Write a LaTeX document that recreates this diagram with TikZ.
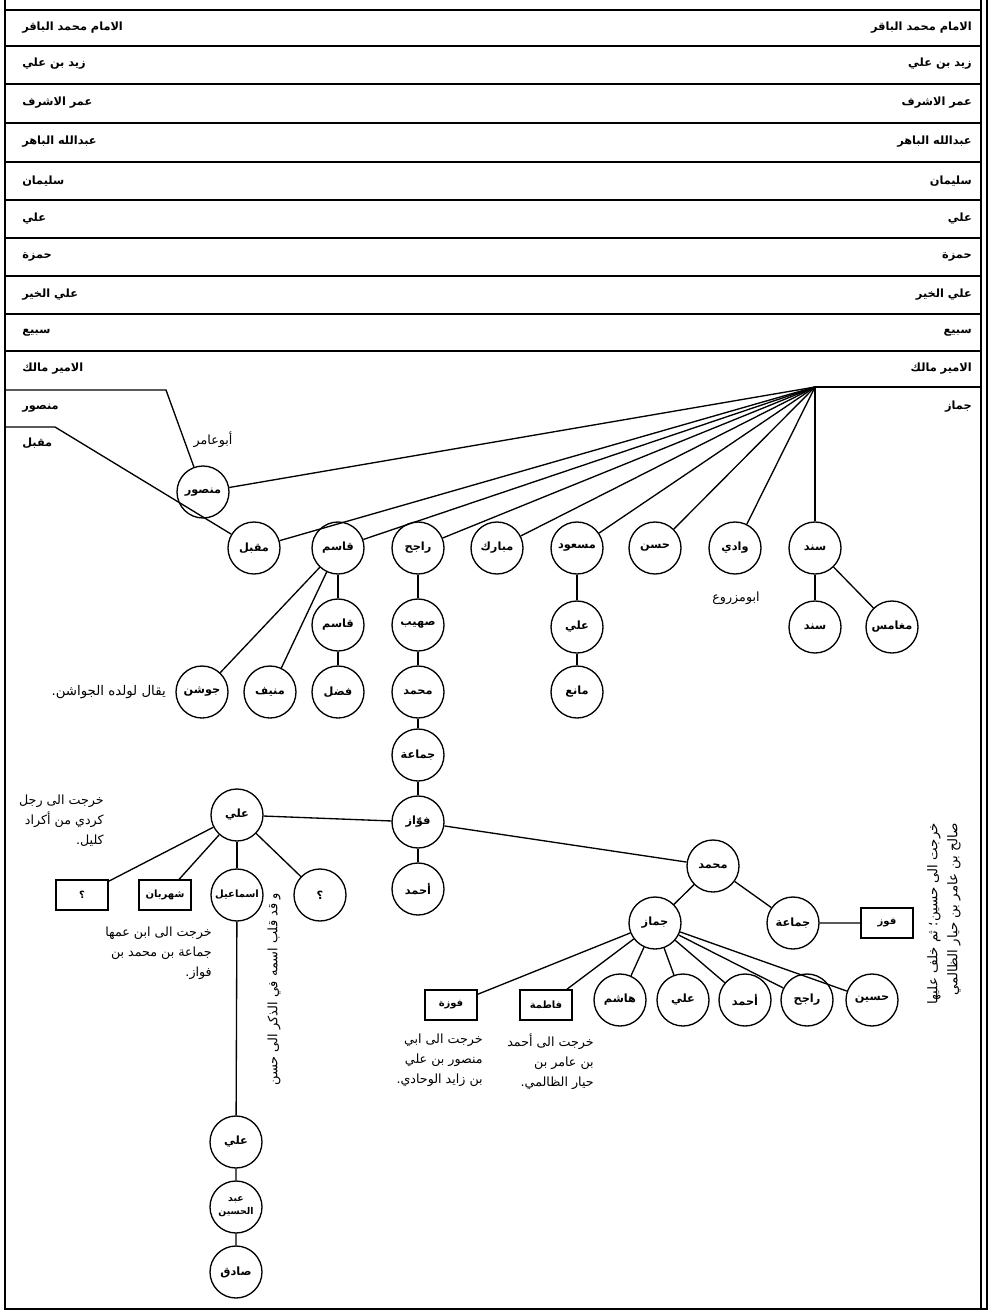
\documentclass[tikz,border=0pt]{standalone}
\usepackage{fontspec}
\newfontfamily\arfont[Script=Arabic]{DejaVu Sans}
\TeXXeTstate=1
\newcommand{\arR}[1]{\beginR #1\endR}
\tikzset{
  person/.style={circle,draw,line width=1pt,minimum size=39pt,inner sep=0pt,fill=white,
    font=\arfont\bfseries\fontsize{8.5}{10}\selectfont},
  boxed/.style={rectangle,draw,line width=1pt,minimum width=39pt,minimum height=22.5pt,inner sep=1pt,fill=white,
    font=\arfont\bfseries\fontsize{7.5}{9}\selectfont},
  rowtxt/.style={inner sep=0pt,font=\arfont\bfseries\fontsize{8.5}{10}\selectfont},
  note/.style={inner sep=0pt,align=right,font=\arfont\fontsize{9.5}{15}\selectfont},
  link/.style={line width=1pt},
  rule/.style={line width=1.1pt}
}
\begin{document}
\begin{tikzpicture}[x=0.75pt,y=-0.75pt]
\useasboundingbox (0,0) rectangle (992,1316);
% frame
\coordinate (fTL) at (5,0);
\coordinate (fBL) at (5,1309);
\coordinate (fBR) at (987,1309);
\coordinate (fTR) at (987,0);
\coordinate (fTRi) at (981,0);
\coordinate (fBRi) at (981,1309);
\draw[rule] (fTL) -- (fBL) -- (fBR) -- (fTR);
\draw[rule] (fTRi) -- (fBRi);
% row lines
\foreach \yy/\nm in {10/r0,46/r1,84/r2,123/r3,162/r4,200/r5,238/r6,276/r7,314/r8,351/r9}{
  \coordinate (\nm L) at (5,\yy);
  \coordinate (\nm R) at (981,\yy);
  \draw[rule] (\nm L) -- (\nm R);
}
% row texts
\foreach \yy/\txt [count=\i] in {28/الامام محمد الباقر,64/زيد بن علي,103/عمر الاشرف,142/عبدالله الباهر,181/سليمان,219/علي,257/حمزة,295/علي الخير,333/سبيع,369/الامير مالك}{
  \node[rowtxt,anchor=west] (rowL\i) at (22,\yy) {\arR{\txt}};
  \node[rowtxt,anchor=east] (rowR\i) at (972,\yy) {\arR{\txt}};
}
% branch labels
\node[rowtxt,anchor=west] (lblMansour) at (22,408) {\arR{منصور}};
\node[rowtxt,anchor=west] (lblMuqbil) at (22,443) {\arR{مقبل}};
\node[rowtxt,anchor=east] (lblJammaz) at (972,407) {\arR{جماز}};

% persons
\node[person] (mansour) at (203,492) {\arR{منصور}};
\node[person] (muqbil) at (254,548) {\arR{مقبل}};
\node[person] (qasim) at (338,548) {\arR{قاسم}};
\node[person] (rajih) at (418,548) {\arR{راجح}};
\node[person] (mubarak) at (497,548) {\arR{مبارك}};
\node[person] (masud) at (577,548) {\arR{مسعود}};
\node[person] (hasan) at (655,548) {\arR{حسن}};
\node[person] (wadi) at (735,548) {\arR{وادي}};
\node[person] (sanad) at (815,548) {\arR{سند}};
\node[person] (qasimb) at (338,625) {\arR{قاسم}};
\node[person] (suhaib) at (418,625) {\arR{صهيب}};
\node[person] (alim) at (577,627) {\arR{علي}};
\node[person] (sanadb) at (815,627) {\arR{سند}};
\node[person] (mughamis) at (892,627) {\arR{مغامس}};
\node[person] (jawshan) at (202,692) {\arR{جوشن}};
\node[person] (munif) at (270,692) {\arR{منيف}};
\node[person] (fadl) at (338,692) {\arR{فضل}};
\node[person] (muhammada) at (418,692) {\arR{محمد}};
\node[person] (mani) at (577,692) {\arR{مانع}};
\node[person] (jamaaa) at (418,755) {\arR{جماعة}};
\node[person] (fawwaz) at (418,822) {\arR{فوّاز}};
\node[person] (ahmada) at (418,889) {\arR{أحمد}};
\node[person] (alil) at (237,815) {\arR{علي}};
\node[person,font=\arfont\bfseries\fontsize{7.5}{8}\selectfont] (ismail) at (237,895) {\arR{اسماعيل}};
\node[person] (qcirc) at (320,895) {\arR{؟}};
\node[boxed] (qbox) at (82,895) {\arR{؟}};
\node[boxed] (shahraban) at (165,895) {\arR{شهربان}};
\node[person] (muhammadb) at (713,866) {\arR{محمد}};
\node[person] (jammazb) at (655,923) {\arR{جماز}};
\node[person] (jamaab) at (793,923) {\arR{جماعة}};
\node[boxed] (fawz) at (887,923) {\arR{فوز}};
\node[boxed] (fawza) at (451,1005) {\arR{فوزة}};
\node[boxed] (fatima) at (546,1005) {\arR{فاطمة}};
\node[person] (hashim) at (620,1000) {\arR{هاشم}};
\node[person] (alic) at (683,1000) {\arR{علي}};
\node[person] (ahmadc) at (745,1000) {\arR{أحمد}};
\node[person] (rajihc) at (807,1000) {\arR{راجح}};
\node[person] (husayn) at (872,1000) {\arR{حسين}};
\node[person] (alid) at (236,1142) {\arR{علي}};
\node[person,align=center,font=\arfont\bfseries\fontsize{7}{9.5}\selectfont] (abdhus) at (236,1207) {\arR{عبد}\\\arR{الحسين}};
\node[person] (sadiq) at (236,1272) {\arR{صادق}};

% connectors
\coordinate (apex) at (815,387);
\coordinate (jamEnd) at (981,387);
\draw[rule] (apex) -- (jamEnd);
\coordinate (manA) at (5,390);
\coordinate (manB) at (166,390);
\draw[link] (manA) -- (manB) -- (mansour);
\coordinate (muqA) at (5,427);
\coordinate (muqB) at (55,427);
\draw[link] (muqA) -- (muqB) -- (muqbil);
\foreach \n in {mansour,muqbil,qasim,rajih,mubarak,masud,hasan,wadi,sanad}
  \draw[link] (apex) -- (\n);
\draw[link] (qasim) -- (qasimb) -- (fadl);
\draw[link] (qasim) -- (munif);
\draw[link] (qasim) -- (jawshan);
\draw[link] (rajih) -- (suhaib) -- (muhammada) -- (jamaaa) -- (fawwaz) -- (ahmada);
\draw[link] (masud) -- (alim) -- (mani);
\draw[link] (sanad) -- (sanadb);
\draw[link] (sanad) -- (mughamis);
\draw[link] (fawwaz) -- (alil);
\foreach \n in {qbox,shahraban,ismail,qcirc} \draw[link] (alil) -- (\n);
\draw[link] (ismail) -- (alid) -- (abdhus) -- (sadiq);
\draw[link] (fawwaz) -- (muhammadb);
\draw[link] (muhammadb) -- (jammazb);
\draw[link] (muhammadb) -- (jamaab) -- (fawz);
\foreach \n in {fawza,fatima,hashim,alic,ahmadc,rajihc,husayn} \draw[link] (jammazb) -- (\n);

% notes
\node[note] (abuamir) at (213,440) {\arR{أبوعامر}};
\node[note] (abumazru) at (736,598) {\arR{ابومزروع}};
\node[note,anchor=east,font=\arfont\fontsize{10}{15}\selectfont] (jawashin) at (166,692) {\arR{يقال لولده الجواشن.}};
\node[note,anchor=north east] (noteKurd) at (104,795) {\arR{خرجت الى رجل}\\\arR{كردي من أكراد}\\\arR{كليل.}};
\node[note,anchor=north east] (noteShah) at (212,927) {\arR{خرجت الى ابن عمها}\\\arR{جماعة بن محمد بن}\\\arR{فواز.}};
\node[note,anchor=north east] (noteFawza) at (483,1034) {\arR{خرجت الى ابي}\\\arR{منصور بن علي}\\\arR{بن زايد الوحادي.}};
\node[note,anchor=north east] (noteFatima) at (594,1034) {\arR{خرجت الى أحمد}\\\arR{بن عامر بن}\\\arR{حيار الظالمي.}};
\node[note,rotate=90,anchor=east,font=\arfont\fontsize{9.7}{15}\selectfont] (noteIsm) at (274,893) {\arR{و قد قلب اسمه في الذكر الى حسن}};
\node[note,rotate=90,anchor=north east,font=\arfont\fontsize{10}{15}\selectfont] (noteHus) at (927,823) {\arR{خرجت الى حسين؛ ثم خلف عليها}\\\arR{صالح بن عامر بن حيار الظالمي}};
\end{tikzpicture}
\end{document}
